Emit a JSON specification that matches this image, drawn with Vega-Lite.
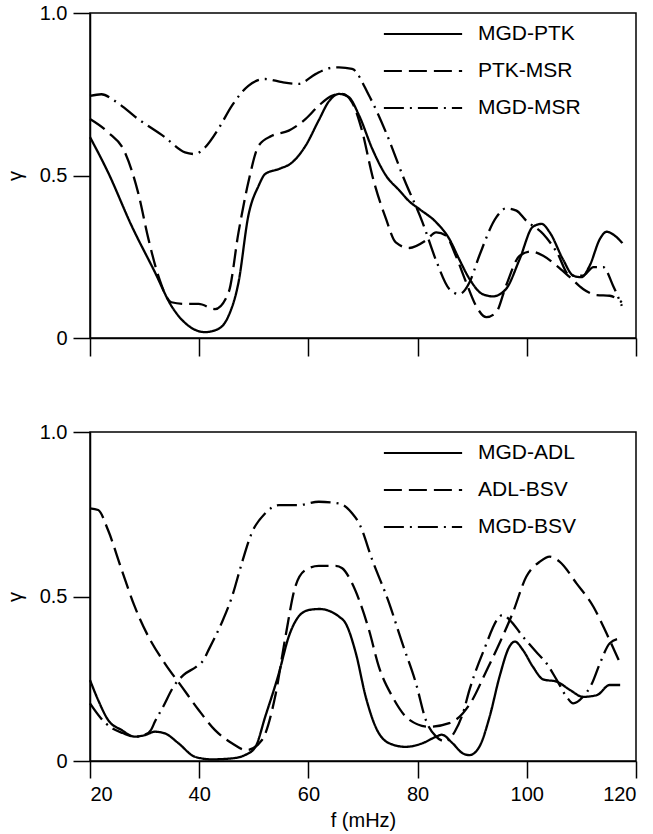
{
  "$schema": "https://vega.github.io/schema/vega-lite/v6.json",
  "padding": {"top": 2, "left": 4, "right": 10, "bottom": 5},
  "background": "white",
  "config": {
    "font": "Liberation Sans",
    "view": {"stroke": "black", "strokeWidth": 1.5},
    "axis": {"grid": false, "domainColor": "black", "domainWidth": 1.5, "tickColor": "black", "tickWidth": 1.5, "tickSize": 17, "labelColor": "black", "titleColor": "black", "labelFontSize": 20, "titleFontSize": 20, "titleFontWeight": "normal", "labelPadding": 6},
    "legend": {"orient": "none", "symbolType": "M-1.63,0H1.63", "symbolSize": 2304, "symbolStrokeWidth": 2, "symbolStrokeColor": "black", "symbolFillColor": "transparent", "labelFontSize": 21, "labelColor": "black", "labelOffset": 30, "padding": 0, "rowPadding": 2}
  },
  "datasets": {
    "top": [
      {"s":"MGD-PTK","f":20,"g":0.618},{"s":"MGD-PTK","f":23.3,"g":0.51},{"s":"MGD-PTK","f":27.6,"g":0.346},{"s":"MGD-PTK","f":31.9,"g":0.202},{"s":"MGD-PTK","f":34.9,"g":0.099},{"s":"MGD-PTK","f":38.0,"g":0.038},{"s":"MGD-PTK","f":41.1,"g":0.018},{"s":"MGD-PTK","f":43.5,"g":0.028},{"s":"MGD-PTK","f":45.4,"g":0.069},{"s":"MGD-PTK","f":47.2,"g":0.171},{"s":"MGD-PTK","f":49.0,"g":0.376},{"s":"MGD-PTK","f":50.9,"g":0.469},{"s":"MGD-PTK","f":52.1,"g":0.505},{"s":"MGD-PTK","f":54.6,"g":0.52},{"s":"MGD-PTK","f":57.0,"g":0.54},{"s":"MGD-PTK","f":59.5,"g":0.592},{"s":"MGD-PTK","f":61.9,"g":0.67},{"s":"MGD-PTK","f":63.75,"g":0.728},{"s":"MGD-PTK","f":65.6,"g":0.751},{"s":"MGD-PTK","f":67.4,"g":0.741},{"s":"MGD-PTK","f":69.3,"g":0.684},{"s":"MGD-PTK","f":71.7,"g":0.582},{"s":"MGD-PTK","f":74.2,"g":0.5},{"s":"MGD-PTK","f":76.6,"g":0.455},{"s":"MGD-PTK","f":78.5,"g":0.42},{"s":"MGD-PTK","f":80.3,"g":0.397},{"s":"MGD-PTK","f":83.4,"g":0.356},{"s":"MGD-PTK","f":85.8,"g":0.305},{"s":"MGD-PTK","f":87.6,"g":0.243},{"s":"MGD-PTK","f":89.5,"g":0.182},{"s":"MGD-PTK","f":91.9,"g":0.135},{"s":"MGD-PTK","f":93.8,"g":0.128},{"s":"MGD-PTK","f":96.2,"g":0.151},{"s":"MGD-PTK","f":98.7,"g":0.243},{"s":"MGD-PTK","f":101.1,"g":0.342},{"s":"MGD-PTK","f":102.7,"g":0.351},{"s":"MGD-PTK","f":104.2,"g":0.325},{"s":"MGD-PTK","f":106.6,"g":0.243},{"s":"MGD-PTK","f":108.5,"g":0.192},{"s":"MGD-PTK","f":110.0,"g":0.187},{"s":"MGD-PTK","f":111.5,"g":0.222},{"s":"MGD-PTK","f":113.4,"g":0.305},{"s":"MGD-PTK","f":114.6,"g":0.327},{"s":"MGD-PTK","f":116.1,"g":0.315},{"s":"MGD-PTK","f":117.5,"g":0.292},
      {"s":"PTK-MSR","f":20,"g":0.674},{"s":"PTK-MSR","f":23.3,"g":0.633},{"s":"PTK-MSR","f":26.4,"g":0.571},{"s":"PTK-MSR","f":28.8,"g":0.448},{"s":"PTK-MSR","f":30.7,"g":0.305},{"s":"PTK-MSR","f":32.5,"g":0.192},{"s":"PTK-MSR","f":34.9,"g":0.11},{"s":"PTK-MSR","f":37.4,"g":0.105},{"s":"PTK-MSR","f":39.9,"g":0.105},{"s":"PTK-MSR","f":42.9,"g":0.089},{"s":"PTK-MSR","f":45.4,"g":0.141},{"s":"PTK-MSR","f":47.2,"g":0.325},{"s":"PTK-MSR","f":49.0,"g":0.479},{"s":"PTK-MSR","f":50.9,"g":0.592},{"s":"PTK-MSR","f":53.3,"g":0.622},{"s":"PTK-MSR","f":56.4,"g":0.638},{"s":"PTK-MSR","f":59.5,"g":0.674},{"s":"PTK-MSR","f":61.9,"g":0.715},{"s":"PTK-MSR","f":64.4,"g":0.746},{"s":"PTK-MSR","f":66.2,"g":0.751},{"s":"PTK-MSR","f":68.0,"g":0.725},{"s":"PTK-MSR","f":69.9,"g":0.633},{"s":"PTK-MSR","f":71.7,"g":0.5},{"s":"PTK-MSR","f":74.2,"g":0.367},{"s":"PTK-MSR","f":76.0,"g":0.294},{"s":"PTK-MSR","f":78.5,"g":0.277},{"s":"PTK-MSR","f":81.5,"g":0.3},{"s":"PTK-MSR","f":83.4,"g":0.325},{"s":"PTK-MSR","f":85.2,"g":0.315},{"s":"PTK-MSR","f":87.0,"g":0.253},{"s":"PTK-MSR","f":88.9,"g":0.171},{"s":"PTK-MSR","f":90.7,"g":0.099},{"s":"PTK-MSR","f":92.6,"g":0.064},{"s":"PTK-MSR","f":94.4,"g":0.079},{"s":"PTK-MSR","f":96.2,"g":0.161},{"s":"PTK-MSR","f":98.7,"g":0.253},{"s":"PTK-MSR","f":100.8,"g":0.266},{"s":"PTK-MSR","f":103.0,"g":0.253},{"s":"PTK-MSR","f":105.5,"g":0.222},{"s":"PTK-MSR","f":107.9,"g":0.187},{"s":"PTK-MSR","f":110.3,"g":0.151},{"s":"PTK-MSR","f":112.8,"g":0.132},{"s":"PTK-MSR","f":115.2,"g":0.13},{"s":"PTK-MSR","f":117.4,"g":0.11},
      {"s":"MGD-MSR","f":20,"g":0.745},{"s":"MGD-MSR","f":22.1,"g":0.75},{"s":"MGD-MSR","f":24.5,"g":0.73},{"s":"MGD-MSR","f":28.8,"g":0.674},{"s":"MGD-MSR","f":33.7,"g":0.618},{"s":"MGD-MSR","f":37.4,"g":0.571},{"s":"MGD-MSR","f":39.2,"g":0.566},{"s":"MGD-MSR","f":41.1,"g":0.587},{"s":"MGD-MSR","f":43.5,"g":0.643},{"s":"MGD-MSR","f":46.0,"g":0.715},{"s":"MGD-MSR","f":49.0,"g":0.776},{"s":"MGD-MSR","f":52.1,"g":0.797},{"s":"MGD-MSR","f":55.2,"g":0.787},{"s":"MGD-MSR","f":58.2,"g":0.782},{"s":"MGD-MSR","f":61.3,"g":0.812},{"s":"MGD-MSR","f":63.75,"g":0.83},{"s":"MGD-MSR","f":65.6,"g":0.833},{"s":"MGD-MSR","f":68.0,"g":0.828},{"s":"MGD-MSR","f":71.1,"g":0.746},{"s":"MGD-MSR","f":74.2,"g":0.633},{"s":"MGD-MSR","f":77.5,"g":0.49},{"s":"MGD-MSR","f":80.9,"g":0.356},{"s":"MGD-MSR","f":83.4,"g":0.238},{"s":"MGD-MSR","f":85.8,"g":0.151},{"s":"MGD-MSR","f":87.6,"g":0.135},{"s":"MGD-MSR","f":89.5,"g":0.171},{"s":"MGD-MSR","f":91.3,"g":0.253},{"s":"MGD-MSR","f":94.4,"g":0.371},{"s":"MGD-MSR","f":96.2,"g":0.399},{"s":"MGD-MSR","f":98.1,"g":0.392},{"s":"MGD-MSR","f":99.9,"g":0.361},{"s":"MGD-MSR","f":103.0,"g":0.32},{"s":"MGD-MSR","f":105.5,"g":0.264},{"s":"MGD-MSR","f":107.9,"g":0.192},{"s":"MGD-MSR","f":110.3,"g":0.192},{"s":"MGD-MSR","f":112.2,"g":0.218},{"s":"MGD-MSR","f":114.0,"g":0.218},{"s":"MGD-MSR","f":115.8,"g":0.161},{"s":"MGD-MSR","f":117.4,"g":0.099}
    ],
    "bottom": [
      {"s":"MGD-ADL","f":20,"g":0.246},{"s":"MGD-ADL","f":21.5,"g":0.185},{"s":"MGD-ADL","f":23.3,"g":0.125},{"s":"MGD-ADL","f":25.8,"g":0.094},{"s":"MGD-ADL","f":28.2,"g":0.074},{"s":"MGD-ADL","f":30.1,"g":0.079},{"s":"MGD-ADL","f":31.9,"g":0.089},{"s":"MGD-ADL","f":33.7,"g":0.084},{"s":"MGD-ADL","f":36.2,"g":0.054},{"s":"MGD-ADL","f":39.2,"g":0.013},{"s":"MGD-ADL","f":42.3,"g":0.005},{"s":"MGD-ADL","f":46.0,"g":0.008},{"s":"MGD-ADL","f":48.4,"g":0.018},{"s":"MGD-ADL","f":50.3,"g":0.043},{"s":"MGD-ADL","f":52.1,"g":0.135},{"s":"MGD-ADL","f":54.6,"g":0.267},{"s":"MGD-ADL","f":56.4,"g":0.378},{"s":"MGD-ADL","f":58.2,"g":0.439},{"s":"MGD-ADL","f":60.1,"g":0.459},{"s":"MGD-ADL","f":62.0,"g":0.462},{"s":"MGD-ADL","f":64.0,"g":0.455},{"s":"MGD-ADL","f":65.6,"g":0.439},{"s":"MGD-ADL","f":66.8,"g":0.419},{"s":"MGD-ADL","f":68.7,"g":0.327},{"s":"MGD-ADL","f":70.5,"g":0.195},{"s":"MGD-ADL","f":72.3,"g":0.104},{"s":"MGD-ADL","f":74.8,"g":0.054},{"s":"MGD-ADL","f":77.8,"g":0.043},{"s":"MGD-ADL","f":80.9,"g":0.054},{"s":"MGD-ADL","f":83.4,"g":0.074},{"s":"MGD-ADL","f":84.4,"g":0.08},{"s":"MGD-ADL","f":86.4,"g":0.054},{"s":"MGD-ADL","f":88.3,"g":0.023},{"s":"MGD-ADL","f":89.5,"g":0.018},{"s":"MGD-ADL","f":91.3,"g":0.043},{"s":"MGD-ADL","f":93.2,"g":0.135},{"s":"MGD-ADL","f":95.0,"g":0.256},{"s":"MGD-ADL","f":96.8,"g":0.347},{"s":"MGD-ADL","f":97.8,"g":0.363},{"s":"MGD-ADL","f":99.3,"g":0.337},{"s":"MGD-ADL","f":101.1,"g":0.287},{"s":"MGD-ADL","f":103.0,"g":0.248},{"s":"MGD-ADL","f":105.5,"g":0.241},{"s":"MGD-ADL","f":107.9,"g":0.216},{"s":"MGD-ADL","f":110.3,"g":0.195},{"s":"MGD-ADL","f":112.8,"g":0.2},{"s":"MGD-ADL","f":115.2,"g":0.231},{"s":"MGD-ADL","f":117.1,"g":0.231},
      {"s":"ADL-BSV","f":20,"g":0.768},{"s":"ADL-BSV","f":21.5,"g":0.763},{"s":"ADL-BSV","f":23.3,"g":0.702},{"s":"ADL-BSV","f":25.8,"g":0.581},{"s":"ADL-BSV","f":28.2,"g":0.469},{"s":"ADL-BSV","f":30.7,"g":0.378},{"s":"ADL-BSV","f":33.7,"g":0.297},{"s":"ADL-BSV","f":36.8,"g":0.226},{"s":"ADL-BSV","f":39.9,"g":0.155},{"s":"ADL-BSV","f":42.9,"g":0.094},{"s":"ADL-BSV","f":46.0,"g":0.054},{"s":"ADL-BSV","f":48.7,"g":0.033},{"s":"ADL-BSV","f":51.5,"g":0.064},{"s":"ADL-BSV","f":53.9,"g":0.195},{"s":"ADL-BSV","f":55.8,"g":0.378},{"s":"ADL-BSV","f":57.6,"g":0.53},{"s":"ADL-BSV","f":59.5,"g":0.581},{"s":"ADL-BSV","f":61.9,"g":0.593},{"s":"ADL-BSV","f":65.0,"g":0.593},{"s":"ADL-BSV","f":66.2,"g":0.586},{"s":"ADL-BSV","f":68.0,"g":0.54},{"s":"ADL-BSV","f":69.3,"g":0.489},{"s":"ADL-BSV","f":71.1,"g":0.398},{"s":"ADL-BSV","f":72.9,"g":0.287},{"s":"ADL-BSV","f":75.4,"g":0.195},{"s":"ADL-BSV","f":78.5,"g":0.125},{"s":"ADL-BSV","f":82.1,"g":0.104},{"s":"ADL-BSV","f":85.8,"g":0.115},{"s":"ADL-BSV","f":88.3,"g":0.145},{"s":"ADL-BSV","f":90.0,"g":0.185},{"s":"ADL-BSV","f":92.4,"g":0.267},{"s":"ADL-BSV","f":95.0,"g":0.358},{"s":"ADL-BSV","f":97.4,"g":0.449},{"s":"ADL-BSV","f":99.9,"g":0.56},{"s":"ADL-BSV","f":102.4,"g":0.606},{"s":"ADL-BSV","f":104.2,"g":0.621},{"s":"ADL-BSV","f":106.0,"g":0.606},{"s":"ADL-BSV","f":109.1,"g":0.54},{"s":"ADL-BSV","f":112.2,"g":0.469},{"s":"ADL-BSV","f":114.6,"g":0.388},{"s":"ADL-BSV","f":117.1,"g":0.297},
      {"s":"MGD-BSV","f":20,"g":0.175},{"s":"MGD-BSV","f":22,"g":0.13},{"s":"MGD-BSV","f":24,"g":0.1},{"s":"MGD-BSV","f":26,"g":0.085},{"s":"MGD-BSV","f":28.2,"g":0.074},{"s":"MGD-BSV","f":30.1,"g":0.08},{"s":"MGD-BSV","f":31.2,"g":0.095},{"s":"MGD-BSV","f":31.9,"g":0.12},{"s":"MGD-BSV","f":33.4,"g":0.165},{"s":"MGD-BSV","f":35.3,"g":0.226},{"s":"MGD-BSV","f":37.1,"g":0.261},{"s":"MGD-BSV","f":39.5,"g":0.287},{"s":"MGD-BSV","f":40.8,"g":0.307},{"s":"MGD-BSV","f":41.7,"g":0.337},{"s":"MGD-BSV","f":44.1,"g":0.419},{"s":"MGD-BSV","f":46.0,"g":0.499},{"s":"MGD-BSV","f":47.8,"g":0.601},{"s":"MGD-BSV","f":49.6,"g":0.692},{"s":"MGD-BSV","f":52.1,"g":0.753},{"s":"MGD-BSV","f":54.6,"g":0.778},{"s":"MGD-BSV","f":58.2,"g":0.778},{"s":"MGD-BSV","f":61.9,"g":0.788},{"s":"MGD-BSV","f":65.6,"g":0.783},{"s":"MGD-BSV","f":68.0,"g":0.753},{"s":"MGD-BSV","f":69.3,"g":0.722},{"s":"MGD-BSV","f":71.7,"g":0.611},{"s":"MGD-BSV","f":74.8,"g":0.479},{"s":"MGD-BSV","f":77.2,"g":0.358},{"s":"MGD-BSV","f":79.7,"g":0.236},{"s":"MGD-BSV","f":81.5,"g":0.125},{"s":"MGD-BSV","f":83.4,"g":0.074},{"s":"MGD-BSV","f":85.0,"g":0.06},{"s":"MGD-BSV","f":86.8,"g":0.089},{"s":"MGD-BSV","f":88.3,"g":0.145},{"s":"MGD-BSV","f":89.5,"g":0.216},{"s":"MGD-BSV","f":91.9,"g":0.327},{"s":"MGD-BSV","f":95.6,"g":0.444},{"s":"MGD-BSV","f":96.8,"g":0.43},{"s":"MGD-BSV","f":99.3,"g":0.378},{"s":"MGD-BSV","f":101.7,"g":0.332},{"s":"MGD-BSV","f":103.6,"g":0.297},{"s":"MGD-BSV","f":105.5,"g":0.246},{"s":"MGD-BSV","f":107.3,"g":0.195},{"s":"MGD-BSV","f":108.5,"g":0.175},{"s":"MGD-BSV","f":110.3,"g":0.195},{"s":"MGD-BSV","f":111.8,"g":0.231},{"s":"MGD-BSV","f":113.4,"g":0.297},{"s":"MGD-BSV","f":115.2,"g":0.358},{"s":"MGD-BSV","f":117.1,"g":0.373}
    ]
  },
  "vconcat": [
    {
      "width": 546, "height": 325,
      "data": {"name": "top"},
      "mark": {"type": "line", "interpolate": "monotone", "strokeWidth": 2.3, "color": "black"},
      "encoding": {
        "x": {"field": "f", "type": "quantitative", "scale": {"domain": [20, 120], "nice": false}, "axis": {"values": [20, 40, 60, 80, 100, 120], "labels": false, "title": null, "tickSize": 18}},
        "y": {"field": "g", "type": "quantitative", "scale": {"domain": [0, 1], "nice": false}, "axis": {"values": [0, 0.5, 1], "labelExpr": "datum.value == 0 ? '0' : format(datum.value, '.1f')", "title": "γ", "titlePadding": 14}},
        "strokeDash": {"field": "s", "type": "nominal", "scale": {"domain": ["MGD-PTK", "PTK-MSR", "MGD-MSR"], "range": [[1, 0], [18, 7], [20, 6, 2, 6]]}, "legend": {"title": null, "legendX": 308, "legendY": -4}}
      }
    },
    {
      "width": 546, "height": 329,
      "data": {"name": "bottom"},
      "mark": {"type": "line", "interpolate": "monotone", "strokeWidth": 2.3, "color": "black"},
      "encoding": {
        "x": {"field": "f", "type": "quantitative", "scale": {"domain": [20, 120], "nice": false}, "axis": {"values": [20, 40, 60, 80, 100, 120], "title": "f (mHz)", "titlePadding": 6}},
        "y": {"field": "g", "type": "quantitative", "scale": {"domain": [0, 1], "nice": false}, "axis": {"values": [0, 0.5, 1], "labelExpr": "datum.value == 0 ? '0' : format(datum.value, '.1f')", "title": "γ", "titlePadding": 14}},
        "strokeDash": {"field": "s", "type": "nominal", "scale": {"domain": ["MGD-ADL", "ADL-BSV", "MGD-BSV"], "range": [[1, 0], [18, 7], [20, 6, 2, 6]]}, "legend": {"title": null, "legendX": 308, "legendY": -4}}
      }
    }
  ],
  "spacing": 63,
  "resolve": {"scale": {"strokeDash": "independent", "x": "independent", "y": "independent"}, "legend": {"strokeDash": "independent"}}
}
